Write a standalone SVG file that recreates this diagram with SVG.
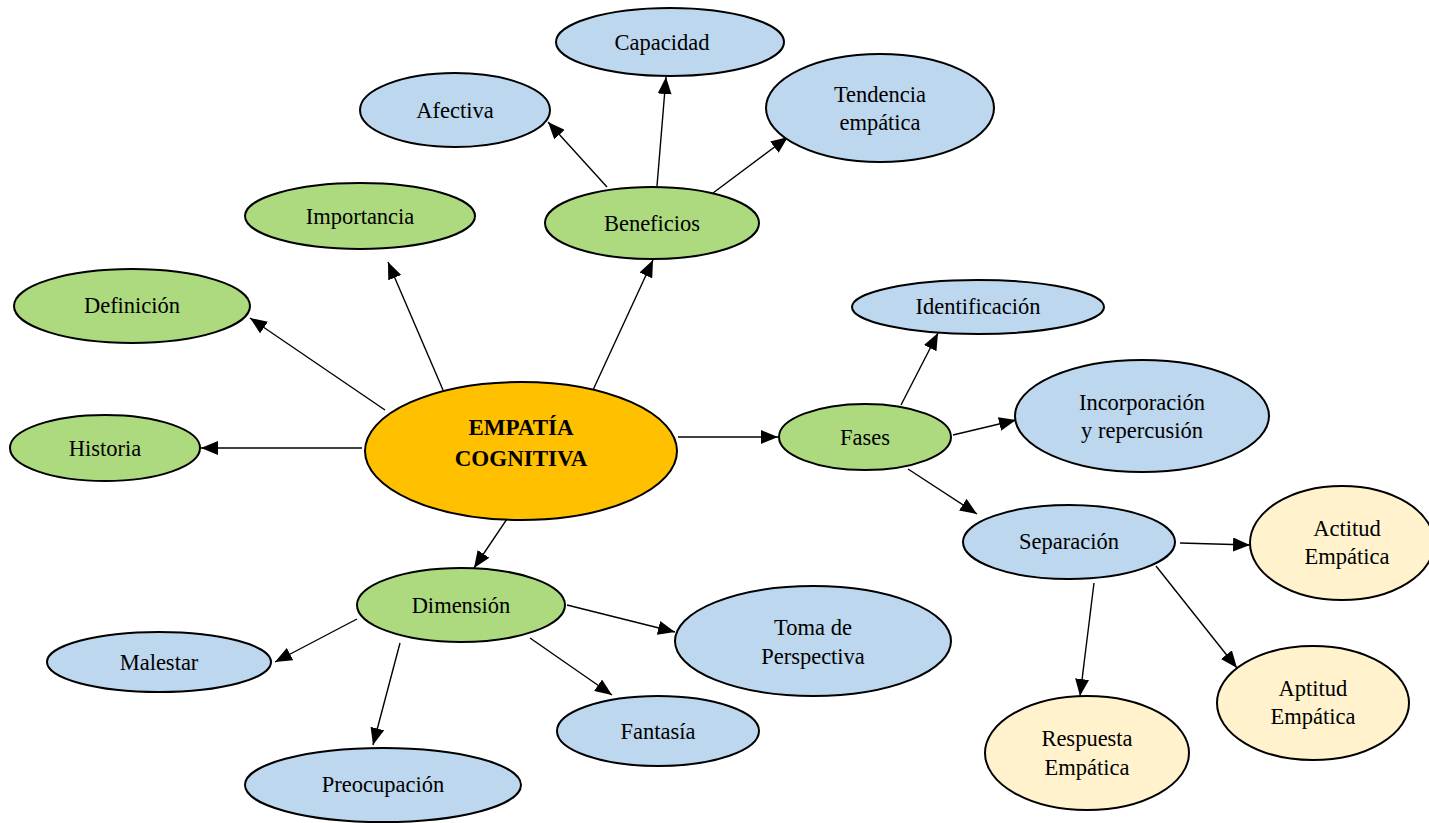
<svg xmlns="http://www.w3.org/2000/svg" width="1429" height="823" viewBox="0 0 1429 823">
<style>
.n{stroke:#000;stroke-width:2}
.g{fill:#ADDA7F}.b{fill:#BDD7EE}.y{fill:#FFF2CC}.o{fill:#FFC000}
text{font-family:"Liberation Serif","Times New Roman",serif;font-size:22.5px;fill:#000;text-anchor:middle}
.bold{font-weight:bold;font-size:23px}
.c line{stroke:#000;stroke-width:1.4;marker-end:url(#ah)}
</style>
<defs>
<marker id="ah" markerUnits="userSpaceOnUse" markerWidth="18" markerHeight="14" refX="17" refY="7" orient="auto">
<path d="M0,0 L17,7 L0,14 z" fill="#000"/>
</marker>
</defs>
<rect width="1429" height="823" fill="#fff"/>
<g class="c" id="connectors">
<line x1="362" y1="448" x2="201" y2="448"/>
<line x1="385" y1="410" x2="250" y2="318"/>
<line x1="443" y1="390" x2="388" y2="262"/>
<line x1="593" y1="390" x2="653" y2="260"/>
<line x1="678" y1="437" x2="778" y2="437"/>
<line x1="515" y1="507" x2="474" y2="568"/>
<line x1="607" y1="187" x2="548" y2="122"/>
<line x1="657" y1="186" x2="666" y2="77"/>
<line x1="713" y1="193" x2="788" y2="137"/>
<line x1="901" y1="405" x2="938" y2="333"/>
<line x1="953" y1="435" x2="1016" y2="420"/>
<line x1="908" y1="469" x2="977" y2="514"/>
<line x1="1180" y1="543" x2="1250" y2="545"/>
<line x1="1094" y1="583" x2="1080" y2="696"/>
<line x1="1156" y1="566" x2="1237" y2="668"/>
<line x1="357" y1="619" x2="275" y2="662"/>
<line x1="400" y1="643" x2="373" y2="745"/>
<line x1="530" y1="638" x2="612" y2="695"/>
<line x1="567" y1="605" x2="675" y2="632"/>
</g>
<g id="center"><ellipse class="n o" cx="521" cy="451" rx="156" ry="69"/><text class="bold" x="521" y="435">EMPATÍA</text><text class="bold" x="521" y="466">COGNITIVA</text></g>
<g id="historia"><ellipse class="n g" cx="105" cy="448" rx="95" ry="33"/><text x="105" y="456">Historia</text></g>
<g id="definicion"><ellipse class="n g" cx="132" cy="306" rx="118" ry="37"/><text x="132" y="313">Definición</text></g>
<g id="importancia"><ellipse class="n g" cx="360" cy="216" rx="115" ry="33"/><text x="360" y="224">Importancia</text></g>
<g id="beneficios"><ellipse class="n g" cx="652" cy="223" rx="107" ry="36"/><text x="652" y="231">Beneficios</text></g>
<g id="afectiva"><ellipse class="n b" cx="455" cy="110" rx="95" ry="37"/><text x="455" y="118">Afectiva</text></g>
<g id="capacidad"><ellipse class="n b" cx="670" cy="42" rx="114" ry="34"/><text x="662" y="50">Capacidad</text></g>
<g id="tendencia"><ellipse class="n b" cx="880" cy="108" rx="114" ry="54"/><text x="880" y="102">Tendencia</text><text x="880" y="130">empática</text></g>
<g id="fases"><ellipse class="n g" cx="865" cy="437" rx="86" ry="33"/><text x="865" y="445">Fases</text></g>
<g id="identificacion"><ellipse class="n b" cx="978" cy="307" rx="126" ry="27"/><text x="978" y="314">Identificación</text></g>
<g id="incorporacion"><ellipse class="n b" cx="1142" cy="416" rx="127" ry="56"/><text x="1142" y="410">Incorporación</text><text x="1142" y="438">y repercusión</text></g>
<g id="separacion"><ellipse class="n b" cx="1069" cy="542" rx="106" ry="37"/><text x="1069" y="549">Separación</text></g>
<g id="actitud"><ellipse class="n y" cx="1342" cy="543" rx="92" ry="57"/><text x="1347" y="536">Actitud</text><text x="1347" y="564">Empática</text></g>
<g id="aptitud"><ellipse class="n y" cx="1313" cy="703" rx="96" ry="57"/><text x="1313" y="696">Aptitud</text><text x="1313" y="724">Empática</text></g>
<g id="respuesta"><ellipse class="n y" cx="1087" cy="753" rx="102" ry="57"/><text x="1087" y="746">Respuesta</text><text x="1087" y="775">Empática</text></g>
<g id="dimension"><ellipse class="n g" cx="461" cy="605" rx="104" ry="37"/><text x="461" y="613">Dimensión</text></g>
<g id="malestar"><ellipse class="n b" cx="159" cy="662" rx="112" ry="30"/><text x="159" y="670">Malestar</text></g>
<g id="preocupacion"><ellipse class="n b" cx="383" cy="785" rx="138" ry="37"/><text x="383" y="792">Preocupación</text></g>
<g id="fantasia"><ellipse class="n b" cx="658" cy="731" rx="101" ry="35"/><text x="658" y="739">Fantasía</text></g>
<g id="toma"><ellipse class="n b" cx="813" cy="641" rx="138" ry="55"/><text x="813" y="635">Toma de</text><text x="813" y="664">Perspectiva</text></g>
</svg>
